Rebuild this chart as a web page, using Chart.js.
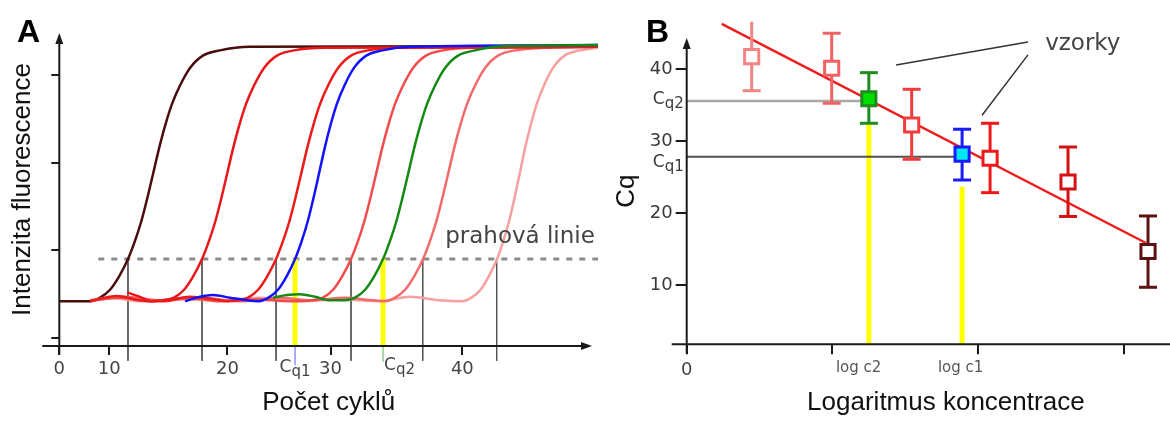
<!DOCTYPE html>
<html lang="cs">
<head>
<meta charset="UTF-8">
<title>qPCR kalibrace</title>
<script src="https://cdn.jsdelivr.net/npm/chart.js"></script>
<style>
  html, body { margin: 0; padding: 0; background: #fff; overflow: hidden; }
  #wrap { position: relative; width: 1170px; height: 421px; overflow: hidden; }
  #chartA { position: absolute; left: 0; top: 0; }
  #chartB { position: absolute; left: 600px; top: 0; }
</style>
</head>
<body>
<div id="wrap">
  <canvas id="chartA" width="600" height="421"></canvas>
  <canvas id="chartB" width="605" height="421"></canvas>
</div>

<script>
// ---- panel A: amplification curves (x = cycle, y = fluorescence a.u.)
const cycDark = [0, 3.04, 4.03, 5.02, 5.91, 6.80, 7.50, 8.09, 8.68, 9.28, 9.87, 10.47, 11.16, 11.95, 12.94, 14.22, 15.91, 18.88, 53.33];
const fluDark = [0.42, 0.42, 0.46, 0.55, 0.70, 0.90, 1.11, 1.32, 1.58, 1.87, 2.16, 2.42, 2.67, 2.88, 3.08, 3.22, 3.28, 3.32, 3.33];

const cycRed2 = [6.71, 7.99, 9.0, 10.37, 11.36, 12.35, 13.24, 14.13, 14.83, 15.42, 16.01, 16.61, 17.20, 17.80, 18.49, 19.28, 20.27, 21.55, 23.24, 26.21, 53.33];
const fluRed2 = [0.52, 0.47, 0.42, 0.43, 0.46, 0.55, 0.70, 0.90, 1.11, 1.32, 1.58, 1.87, 2.16, 2.42, 2.67, 2.88, 3.08, 3.22, 3.28, 3.31, 3.32];

const cycRed3 = [3.04, 5.71, 7.99, 10.40, 12.94, 15.42, 16.60, 17.70, 18.69, 19.68, 20.57, 21.46, 22.16, 22.75, 23.34, 23.94, 24.53, 25.13, 25.82, 26.61, 27.60, 28.88, 30.57, 33.54, 53.33];
const fluRed3 = [0.42, 0.48, 0.43, 0.42, 0.47, 0.44, 0.42, 0.43, 0.46, 0.55, 0.70, 0.90, 1.11, 1.32, 1.58, 1.87, 2.16, 2.42, 2.67, 2.88, 3.08, 3.22, 3.28, 3.31, 3.32];

const cycBlue = [12.45, 13.93, 15.22, 16.90, 18.58, 19.77, 20.71, 21.65, 22.49, 23.34, 24.01, 24.57, 25.13, 25.70, 26.26, 26.83, 27.48, 28.23, 29.17, 30.39, 31.99, 34.82, 53.33];
const fluBlue = [0.42, 0.47, 0.49, 0.46, 0.43, 0.42, 0.46, 0.55, 0.70, 0.90, 1.11, 1.32, 1.58, 1.87, 2.16, 2.42, 2.67, 2.88, 3.08, 3.22, 3.28, 3.32, 3.34];

const cycRed4 = [3.04, 6.01, 8.98, 12.45, 15.91, 19.38, 22.84, 25.12, 26.11, 27.10, 27.99, 28.88, 29.58, 30.17, 30.76, 31.36, 31.95, 32.55, 33.24, 34.03, 35.02, 36.30, 37.99, 40.96, 53.33];
const fluRed4 = [0.43, 0.46, 0.42, 0.46, 0.42, 0.44, 0.42, 0.43, 0.46, 0.55, 0.70, 0.90, 1.11, 1.32, 1.58, 1.87, 2.16, 2.42, 2.67, 2.88, 3.08, 3.22, 3.28, 3.31, 3.32];

const cycGreen = [21.16, 22.55, 23.83, 25.31, 26.80, 28.29, 29.28, 30.27, 31.16, 32.05, 32.75, 33.34, 33.93, 34.53, 35.12, 35.72, 36.41, 37.20, 38.19, 39.47, 41.16, 44.13, 53.33];
const fluGreen = [0.46, 0.49, 0.50, 0.47, 0.43, 0.43, 0.46, 0.55, 0.70, 0.90, 1.11, 1.32, 1.58, 1.87, 2.16, 2.42, 2.67, 2.88, 3.08, 3.22, 3.28, 3.33, 3.34];

const cycRed5 = [3.04, 6.50, 9.97, 13.93, 17.89, 21.85, 24.82, 28.29, 31.0, 32.25, 33.24, 34.23, 35.12, 36.01, 36.71, 37.30, 37.89, 38.49, 39.08, 39.68, 40.37, 41.16, 42.15, 43.43, 45.12, 48.09, 53.33];
const fluRed5 = [0.42, 0.47, 0.43, 0.46, 0.42, 0.46, 0.43, 0.46, 0.43, 0.42, 0.46, 0.55, 0.70, 0.90, 1.11, 1.32, 1.58, 1.87, 2.16, 2.42, 2.67, 2.88, 3.08, 3.22, 3.28, 3.31, 3.32];

const cycPink = [3.04, 5.02, 7.99, 11.95, 15.91, 19.87, 23.83, 27.79, 31.75, 34.72, 37.69, 39.90, 40.80, 41.70, 42.50, 43.34, 43.97, 44.50, 45.03, 45.57, 46.10, 46.65, 47.27, 47.98, 48.87, 50.02, 51.55, 53.33];
const fluPink = [0.43, 0.46, 0.42, 0.44, 0.43, 0.46, 0.42, 0.44, 0.42, 0.47, 0.43, 0.42, 0.46, 0.55, 0.70, 0.90, 1.11, 1.32, 1.58, 1.87, 2.16, 2.42, 2.67, 2.88, 3.08, 3.22, 3.28, 3.31];

const thresholdA = 0.9;
const thresholdFrom = 3.86;
const crossingsA = [6.8, 14.13, 21.46, 28.88, 35.98, 43.3];
const cq1A = 23.34;
const cq2A = 32.05;
const xTickPosA = [0, 4.95, 16.65, 26.85, 39.9];
const xTickLabA = ['0', '10', '20', '30', '40'];
const yTickPosA = [0, 1, 2, 3];

// ---- panel B: standard curve (x = log concentration, y = Cq)
const logConc = [0.446, 0.995, 1.25, 1.544, 1.89, 2.082, 2.617, 3.166];
const cqMean  = [41.75, 40.14, 35.9, 32.25, 28.2, 27.62, 24.33, 14.66];
const cqLow   = [37.02, 35.27, 32.49, 27.48, 24.6, 22.84, 19.53, 9.68];
const cqHigh  = [46.62, 45.01, 39.53, 37.22, 31.66, 32.49, 29.19, 19.6];
const fitX = [0.24, 3.152];
const fitY = [46.3, 15.84];
const cq1B = 27.84;
const cq2B = 35.6;
const logC1 = 1.89;
const logC2 = 1.25;
const xTickPosB = [0, 1, 1.18, 1.88, 2, 3];
const xTickLabB = ['0', '', 'log c2', 'log c1', '', ''];
const yTickPosB = [10, 20, 30, 40];

const sampleLine = ['#f38585', '#f26262', '#1f8c1f', '#f03c3c', '#1a1aff', '#ee1a1a', '#d51212', '#5c1212'];
const sampleFill = ['#ffffff', '#ffffff', '#00dd00', '#ffffff', '#00e5ee', '#ffffff', '#ffffff', '#ffffff'];

Chart.defaults.font.family = '"DejaVu Sans", sans-serif';

function pts(xs, ys) {
  return xs.map((v, i) => ({ x: v, y: ys[i] }));
}

function curve(xs, ys, color, order) {
  return {
    data: pts(xs, ys), borderColor: color, borderWidth: 2.5, showLine: true,
    pointRadius: 0, cubicInterpolationMode: 'monotone', order: order
  };
}

function segment(x1, y1, x2, y2, color, width, order, dash) {
  return {
    data: [{ x: x1, y: y1 }, { x: x2, y: y2 }], borderColor: color, borderWidth: width,
    showLine: true, pointRadius: 0, tension: 0, order: order, clip: false, borderDash: dash || []
  };
}

function axisLine(ctx, x1, y1, x2, y2) {
  ctx.beginPath();
  ctx.moveTo(x1, y1);
  ctx.lineTo(x2, y2);
  ctx.stroke();
}

function arrowUp(ctx, x, y) {
  ctx.beginPath();
  ctx.moveTo(x, y);
  ctx.lineTo(x - 4, y + 11);
  ctx.lineTo(x + 4, y + 11);
  ctx.closePath();
  ctx.fill();
}

function arrowRight(ctx, x, y) {
  ctx.beginPath();
  ctx.moveTo(x, y);
  ctx.lineTo(x - 11, y - 4);
  ctx.lineTo(x - 11, y + 4);
  ctx.closePath();
  ctx.fill();
}

// "C" with a lowered "q1"/"q2"
function drawCq(ctx, sub, x, y, align) {
  ctx.font = '17px "DejaVu Sans"';
  const wC = ctx.measureText('C').width;
  ctx.font = '15px "DejaVu Sans"';
  const wS = ctx.measureText(sub).width;
  let left = x;
  if (align === 'center') left = x - (wC + wS) / 2;
  if (align === 'right') left = x - wC - wS;
  ctx.textAlign = 'left';
  ctx.textBaseline = 'alphabetic';
  ctx.font = '17px "DejaVu Sans"';
  ctx.fillText('C', left, y);
  ctx.font = '15px "DejaVu Sans"';
  ctx.fillText(sub, left + wC, y + 4);
}

const decorA = {
  id: 'decorA',
  afterDraw(chart) {
    const { ctx, chartArea: ca, scales: { x, y } } = chart;
    const x0 = x.getPixelForValue(0);
    ctx.save();
    ctx.strokeStyle = '#1a1a1a';
    ctx.fillStyle = '#1a1a1a';
    ctx.lineWidth = 2;
    axisLine(ctx, x0, ca.bottom + 9, x0, ca.top + 8);
    arrowUp(ctx, x0, ca.top);
    axisLine(ctx, x0 - 17, ca.bottom, ca.right - 12, ca.bottom);
    arrowRight(ctx, ca.right - 6, ca.bottom);

    ctx.fillStyle = '#444';
    ctx.font = '23px "DejaVu Sans"';
    ctx.textAlign = 'left';
    ctx.textBaseline = 'alphabetic';
    ctx.fillText('prahová linie', x.getPixelForValue(38.2), y.getPixelForValue(1.08));

    drawCq(ctx, 'q1', x.getPixelForValue(cq1A), ca.bottom + 26, 'center');
    drawCq(ctx, 'q2', x.getPixelForValue(cq2A) + 1, ca.bottom + 24, 'left');

    ctx.fillStyle = '#000';
    ctx.font = 'bold 32px "Liberation Sans"';
    ctx.fillText('A', 17, 42);
    ctx.restore();
  }
};

const decorB = {
  id: 'decorB',
  afterDraw(chart) {
    const { ctx, chartArea: ca, scales: { x, y } } = chart;
    const x0 = x.getPixelForValue(0);
    ctx.save();
    ctx.strokeStyle = '#1a1a1a';
    ctx.fillStyle = '#1a1a1a';
    ctx.lineWidth = 2;
    axisLine(ctx, x0, ca.bottom + 9, x0, ca.top + 8);
    arrowUp(ctx, x0, ca.top);
    axisLine(ctx, x0 - 15, ca.bottom, ca.right - 12, ca.bottom);
    arrowRight(ctx, ca.right - 6, ca.bottom);

    ctx.fillStyle = '#3a3a3a';
    drawCq(ctx, 'q2', ca.left - 3, y.getPixelForValue(cq2B) + 3, 'right');
    drawCq(ctx, 'q1', ca.left - 3, y.getPixelForValue(cq1B) + 10, 'right');

    // leader lines of the "vzorky" note
    ctx.strokeStyle = '#333';
    ctx.lineWidth = 1.5;
    axisLine(ctx, x.getPixelForValue(1.437), y.getPixelForValue(40.6), x.getPixelForValue(2.342), y.getPixelForValue(43.8));
    axisLine(ctx, x.getPixelForValue(2.342), y.getPixelForValue(42.0), x.getPixelForValue(2.027), y.getPixelForValue(33.6));
    ctx.fillStyle = '#444';
    ctx.font = '23px "DejaVu Sans"';
    ctx.textAlign = 'left';
    ctx.textBaseline = 'alphabetic';
    ctx.fillText('vzorky', x.getPixelForValue(2.46), y.getPixelForValue(42.7));

    ctx.fillStyle = '#000';
    ctx.font = 'bold 32px "Liberation Sans"';
    ctx.fillText('B', 46, 42);
    ctx.restore();
  }
};

const titleFont = { family: '"Liberation Sans", Arial, sans-serif', size: 26, lineHeight: 1 };

// ---------- chart A
const yMinA = -0.091;
const dsA = [
  curve(cycGreen, fluGreen, '#148a14', 0),
  curve(cycBlue, fluBlue, '#1212ff', 1),
  curve(cycRed3, fluRed3, '#ec1b1b', 2),
  curve(cycRed2, fluRed2, '#e8171a', 3),
  curve(cycRed4, fluRed4, '#f14b4b', 4),
  curve(cycRed5, fluRed5, '#f36a6a', 5),
  curve(cycPink, fluPink, '#f6a0a0', 6),
  curve(cycDark, fluDark, '#4a0d0d', 7),
  segment(thresholdFrom, thresholdA, 53.33, thresholdA, '#8c8c8c', 3, 9, [6, 7]),
  segment(cq1A, thresholdA, cq1A, yMinA, '#ffff00', 5, 8),
  segment(cq2A, thresholdA, cq2A, yMinA, '#ffff00', 5, 8),
  segment(cq1A, yMinA, cq1A, -0.31, '#7777ff', 1.2, 8),
  segment(cq2A, yMinA, cq2A, -0.27, '#77bb77', 1.2, 8)
].concat(crossingsA.map(c => segment(c, thresholdA, c, -0.26, '#555', 1, 10)));

new Chart(document.getElementById('chartA'), {
  type: 'scatter',
  data: { datasets: dsA },
  plugins: [decorA],
  options: {
    responsive: false,
    animation: false,
    events: [],
    layout: { autoPadding: false, padding: { top: 33, right: 2, left: 0, bottom: 0 } },
    plugins: { legend: { display: false }, tooltip: { enabled: false } },
    scales: {
      x: {
        type: 'linear', min: 0, max: 53.33,
        afterFit: s => { s.height = 75; },
        afterBuildTicks: s => { s.ticks = xTickPosA.map(v => ({ value: v })); },
        border: { display: false },
        grid: { drawOnChartArea: false, tickLength: 9, color: '#1a1a1a', lineWidth: 2 },
        ticks: { callback: (v, i) => xTickLabA[i], autoSkip: false, maxRotation: 0, minRotation: 0,
                 padding: 4, color: '#444', font: { size: 18 } },
        title: { display: true, text: 'Počet cyklů', color: '#111', font: titleFont, padding: { top: 0, bottom: 5 } }
      },
      y: {
        type: 'linear', min: yMinA, max: 3.478,
        afterFit: s => { s.width = 59.3; },
        afterBuildTicks: s => { s.ticks = yTickPosA.map(v => ({ value: v })); },
        border: { display: false },
        grid: { drawOnChartArea: false, tickLength: 8, color: '#1a1a1a', lineWidth: 2 },
        ticks: { callback: () => '' },
        title: { display: true, text: 'Intenzita fluorescence', color: '#111', font: titleFont, padding: { top: 10, bottom: 0 } }
      }
    }
  }
});

// ---------- chart B
const yMinB = 1.75;
const dsB = [
  {
    data: pts(logConc, cqMean), pointStyle: 'rect', pointRadius: 10, pointBorderWidth: 3,
    pointBackgroundColor: sampleFill, pointBorderColor: sampleLine, showLine: false, order: 0, clip: false
  }
];
logConc.forEach((c, i) => {
  dsB.push({
    data: [{ x: c, y: cqLow[i] }, { x: c, y: cqHigh[i] }], borderColor: sampleLine[i], borderWidth: 3,
    showLine: true, pointStyle: 'line', pointRadius: 9, pointBorderWidth: 3, pointBorderColor: sampleLine[i],
    order: 1, clip: false
  });
});
dsB.push(
  { data: pts(fitX, fitY), borderColor: '#ee1c1c', borderWidth: 2.5, showLine: true, pointRadius: 0, order: 2, clip: false },
  segment(0, cq2B, logC2, cq2B, '#a8a8a8', 2.5, 3),
  segment(0, cq1B, logC1, cq1B, '#505050', 2, 3),
  segment(logC2, yMinB, logC2, cqLow[2], '#ffff00', 5, 4),
  segment(logC1, yMinB, logC1, 23.67, '#ffff00', 5, 4)
);

new Chart(document.getElementById('chartB'), {
  type: 'scatter',
  data: { datasets: dsB },
  plugins: [decorB],
  options: {
    responsive: false,
    animation: false,
    events: [],
    layout: { autoPadding: false, padding: { top: 38, right: 0, left: 0, bottom: 0 } },
    plugins: { legend: { display: false }, tooltip: { enabled: false } },
    scales: {
      x: {
        type: 'linear', min: 0, max: 3.557,
        afterFit: s => { s.height = 76.7; },
        afterBuildTicks: s => { s.ticks = xTickPosB.map(v => ({ value: v })); },
        border: { display: false },
        grid: {
          drawOnChartArea: false, tickLength: 10, lineWidth: 2,
          tickColor: c => (c.index > 0 && xTickLabB[c.index] !== '') ? 'rgba(0,0,0,0)' : '#1a1a1a'
        },
        ticks: {
          callback: (v, i) => xTickLabB[i], autoSkip: false, maxRotation: 0, minRotation: 0, padding: 5,
          color: c => c.index === 0 ? '#444' : '#555',
          font: c => ({ size: c.index === 0 ? 18 : 15 })
        },
        title: { display: true, text: 'Logaritmus koncentrace', color: '#111', font: titleFont, padding: { top: 0, bottom: 5 } }
      },
      y: {
        type: 'linear', min: yMinB, max: 44.35,
        afterFit: s => { s.width = 86.7; },
        afterBuildTicks: s => { s.ticks = yTickPosB.map(v => ({ value: v })); },
        border: { display: false },
        grid: { drawOnChartArea: false, tickLength: 11, color: '#1a1a1a', lineWidth: 2 },
        ticks: { padding: 3, color: '#3a3a3a', font: { size: 18 } },
        title: { display: true, text: 'Cq', color: '#111', font: titleFont, padding: { top: 14, bottom: 0 } }
      }
    }
  }
});
</script>
</body>
</html>
